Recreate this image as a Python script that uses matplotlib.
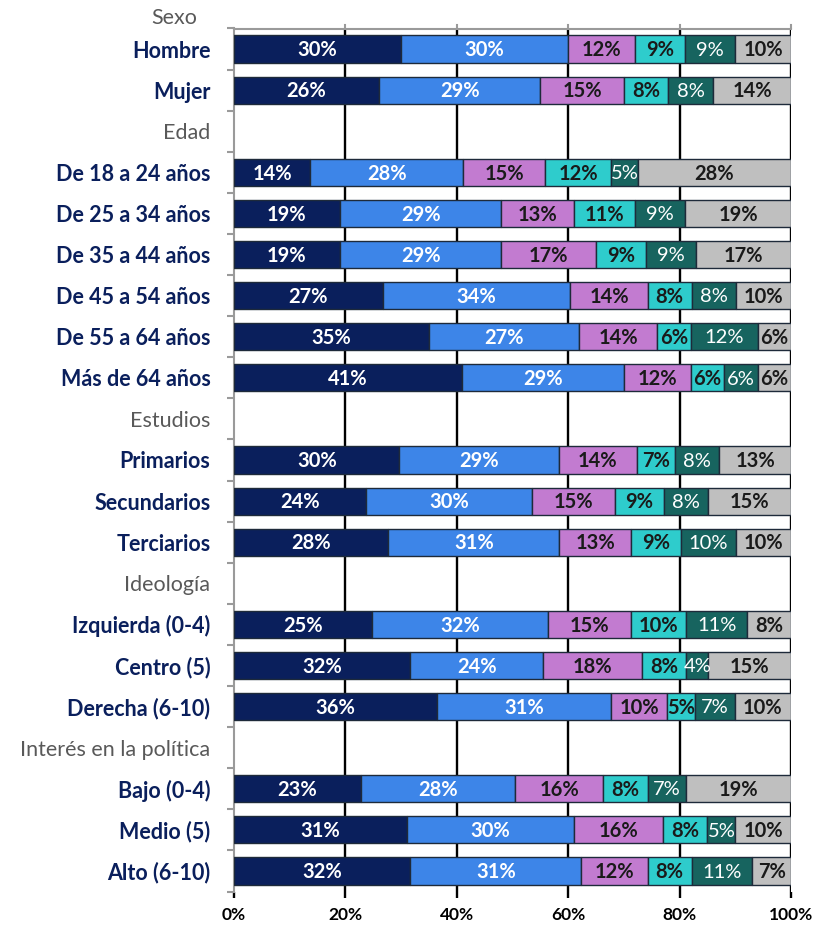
import matplotlib
matplotlib.use("Agg")
import matplotlib.pyplot as plt
import numpy as np

plt.rcParams['font.family'] = ['Lato', 'DejaVu Sans']

# ---- data ----
row_labels = ["Hombre", "Mujer", "Edad", "De 18 a 24 años", "De 25 a 34 años",
              "De 35 a 44 años", "De 45 a 54 años", "De 55 a 64 años", "Más de 64 años",
              "Estudios", "Primarios", "Secundarios", "Terciarios", "Ideología",
              "Izquierda (0-4)", "Centro (5)", "Derecha (6-10)", "Interés en la política",
              "Bajo (0-4)", "Medio (5)", "Alto (6-10)"]
header_rows = ["Edad", "Estudios", "Ideología", "Interés en la política"]
top_header = "Sexo"

s1 = [30, 26, None, 14, 19, 19, 27, 35, 41, None, 30, 24, 28, None, 25, 32, 36, None, 23, 31, 32]
s2 = [30, 29, None, 28, 29, 29, 34, 27, 29, None, 29, 30, 31, None, 32, 24, 31, None, 28, 30, 31]
s3 = [12, 15, None, 15, 13, 17, 14, 14, 12, None, 14, 15, 13, None, 15, 18, 10, None, 16, 16, 12]
s4 = [9, 8, None, 12, 11, 9, 8, 6, 6, None, 7, 9, 9, None, 10, 8, 5, None, 8, 8, 8]
s5 = [9, 8, None, 5, 9, 9, 8, 12, 6, None, 8, 8, 10, None, 11, 4, 7, None, 7, 5, 11]
s6 = [10, 14, None, 28, 19, 17, 10, 6, 6, None, 13, 15, 10, None, 8, 15, 10, None, 19, 10, 7]
series = [s1, s2, s3, s4, s5, s6]

colors = ["#0a1f5c", "#3d85e8", "#c27bd0", "#2ecccc", "#17645f", "#bfbfbf"]
label_colors = ["white", "white", "#1a1a1a", "#1a1a1a", "white", "#1a1a1a"]
label_weights = ["bold", "bold", "bold", "bold", "normal", "bold"]

xticks = [0, 20, 40, 60, 80, 100]
xtick_labels = ["0%", "20%", "40%", "60%", "80%", "100%"]

# ---- figure ----
fig = plt.figure(figsize=(8.17, 9.25), dpi=100)
ax = fig.add_axes([234/817, 1-891.5/925, (791-234)/817, (891.5-28.5)/925])

n = len(row_labels)
y = np.arange(n)

for i in range(n):
    vals = [s[i] for s in series]
    if vals[0] is None:
        continue
    tot = sum(vals)
    left = 0.0
    for k, v in enumerate(vals):
        w = v / tot * 100
        ax.barh(i, w, left=left, height=0.66, color=colors[k],
                edgecolor="#1e2a3a", linewidth=1.0, zorder=3)
        ax.text(left + w/2, i + 0.03, f"{v}%", ha="center", va="center",
                color=label_colors[k], fontsize=14.5, fontweight=label_weights[k], zorder=4)
        left += w

ax.set_xlim(0, 100)
ax.set_ylim(n - 0.5, -0.5)

# gridlines
for xv in [20, 40, 60, 80, 100]:
    ax.axvline(xv, color="black", lw=1.7, zorder=1)

ax.set_xticks(xticks)
ax.set_xticklabels(xtick_labels, fontsize=12.5, fontweight="bold", color="black")
ax.tick_params(axis="x", direction="out", length=4, width=1.7, color="black", pad=7)

ax.set_yticks(y)
ax.set_yticklabels(row_labels)
for lab in ax.get_yticklabels():
    t = lab.get_text()
    if t in header_rows:
        lab.set_color("#595959")
        lab.set_fontweight("normal")
    else:
        lab.set_color("#0a1f5c")
        lab.set_fontweight("bold")
    lab.set_fontsize(15.5)
ax.tick_params(axis="y", which="major", length=0, pad=17)
ax.set_yticks(np.arange(-0.5, n, 1.0), minor=True)
ax.tick_params(axis="y", which="minor", length=5, width=1.5, color="#9a9a9a", direction="out")

for sp in ["right", "bottom"]:
    ax.spines[sp].set_visible(False)
ax.spines["left"].set_color("#9a9a9a")
ax.spines["left"].set_linewidth(1.5)
ax.spines["top"].set_color("#9a9a9a")
ax.spines["top"].set_linewidth(1.5)

# top small ticks
for xv in [20, 40, 60, 80, 100]:
    ax.plot([xv, xv], [-0.5, -0.58], color="#9a9a9a", lw=1.5, clip_on=False, zorder=5)

fig.text(197/817, 1-18/925, top_header, ha="right", va="center", fontsize=15.5, color="#595959")

fig.savefig("out.png", dpi=100)
